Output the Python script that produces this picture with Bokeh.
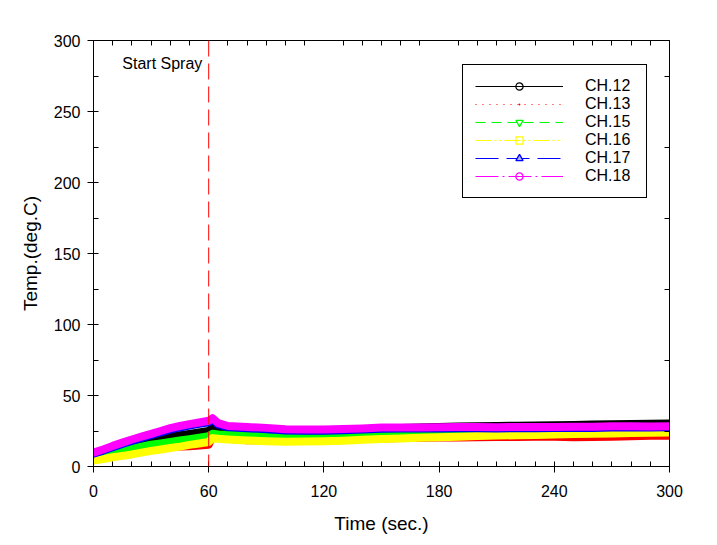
from bokeh.plotting import figure
from bokeh.models import (Range1d, SingleIntervalTicker, FixedTicker, LinearAxis,
                          Span, Legend, LegendItem, ColumnDataSource, Label)
from bokeh.embed import file_html
from bokeh.resources import INLINE

# ---- data ----
time_s = [0, 5, 10, 15, 20, 25, 30, 35, 40, 45, 50, 55, 60, 62, 65, 70, 80, 90, 100,
          110, 120, 130, 140, 150, 160, 170, 180, 190, 200, 210, 220, 230, 240, 250,
          260, 270, 280, 290, 300]

ch12 = [9.0, 10.8, 12.5, 14.3, 16.0, 17.5, 18.8, 20.0, 21.0, 22.0, 23.0, 24.0, 25.0, 27.8,
        24.5, 24.0, 24.3, 24.5, 24.7, 25.0, 25.4, 25.8, 26.2, 26.7, 27.1, 27.5, 27.8, 28.1,
        28.3, 28.5, 28.7, 28.9, 29.1, 29.3, 29.5, 29.7, 29.9, 30.1, 30.2]
ch13 = [8.5, 10.3, 10.8, 11.5, 12.0, 12.5, 13.0, 13.3, 13.6, 14.0, 14.3, 14.8, 15.3, 22.0,
        21.0, 19.5, 18.5, 18.5, 18.5, 18.5, 19.0, 19.2, 19.5, 19.8, 20.0, 20.3, 20.5, 20.5,
        20.6, 20.8, 20.8, 20.9, 21.0, 20.6, 20.8, 21.0, 21.3, 21.6, 21.6]
ch15 = [7.5, 9.0, 10.3, 11.5, 12.7, 14.0, 15.3, 16.3, 17.3, 18.3, 19.3, 20.3, 21.3, 23.0,
        22.5, 22.3, 22.0, 21.8, 21.7, 21.8, 22.0, 22.3, 22.7, 23.2, 23.5, 23.6, 23.8, 24.0,
        24.0, 24.2, 24.3, 24.4, 24.5, 24.6, 24.7, 24.9, 25.0, 25.2, 25.4]
ch16 = [4.2, 5.2, 6.5, 7.5, 8.5, 9.8, 11.0, 12.0, 13.0, 14.0, 15.2, 16.2, 17.3, 20.0,
        19.5, 19.0, 18.3, 17.8, 17.5, 17.6, 17.8, 18.2, 18.8, 19.4, 19.8, 20.2, 20.6, 21.0,
        21.5, 21.8, 22.0, 22.2, 22.5, 22.8, 23.0, 23.3, 23.6, 23.8, 24.0]
ch17 = [9.0, 11.2, 13.6, 15.9, 18.0, 20.0, 22.0, 24.0, 26.0, 27.5, 28.8, 30.0, 31.2, 33.0,
        29.5, 27.6, 26.9, 26.3, 25.4, 25.2, 25.2, 25.6, 26.0, 26.6, 26.7, 26.7, 26.8, 27.0,
        27.0, 26.8, 27.1, 27.0, 27.1, 27.2, 27.2, 27.5, 27.6, 27.4, 27.6]
ch18 = [9.8, 12.0, 14.5, 16.8, 19.0, 21.0, 23.0, 25.0, 27.0, 28.5, 29.8, 31.0, 32.2, 34.0,
        30.5, 28.5, 27.8, 27.2, 26.2, 26.0, 26.0, 26.4, 26.8, 27.4, 27.5, 27.5, 27.6, 27.8,
        27.8, 27.6, 27.9, 27.8, 27.9, 28.0, 28.0, 28.3, 28.4, 28.2, 28.4]

labels = ["CH.12", "CH.13", "CH.15", "CH.16", "CH.17", "CH.18"]
colors = ["black", "red", "#00ff00", "#ffff00", "#0000ff", "#ff00ff"]
dashes = ["solid", "1 6", "10 6", "16 3 2 3 2 3", "23 8", "23 4 2 4"]
markers = ["circle", "dot", "inverted_triangle", "square", "triangle", "circle"]
series = [ch12, ch13, ch15, ch16, ch17, ch18]

x_ticks_major = 60
y_ticks_major = 50
spray_time = 60

FONT = "Liberation Sans"

p = figure(frame_width=576, frame_height=426, output_backend="svg", toolbar_location=None,
           x_range=Range1d(0, 300), y_range=Range1d(0, 300),
           min_border_left=93, min_border_top=40, min_border_right=40, min_border_bottom=70)
p.xgrid.visible = False
p.ygrid.visible = False
p.outline_line_color = "black"
p.outline_line_alpha = 1
p.background_fill_color = "white"
p.border_fill_color = "white"

# bottom / left axes
xa = p.xaxis[0]
xa.ticker = SingleIntervalTicker(interval=x_ticks_major, num_minor_ticks=6)
xa.axis_label = "Time (sec.)"
ya = p.yaxis[0]
ya.ticker = SingleIntervalTicker(interval=y_ticks_major, num_minor_ticks=2)
ya.axis_label = "Temp.(deg.C)"
for ax in (xa, ya):
    ax.axis_line_color = "black"
    ax.major_tick_line_color = "black"
    ax.minor_tick_line_color = "black"
    ax.major_tick_in = 0
    ax.major_tick_out = 6
    ax.minor_tick_in = 5
    ax.minor_tick_out = 0
    ax.major_label_text_font = FONT
    ax.major_label_text_font_size = "16px"
    ax.major_label_text_color = "black"
    ax.axis_label_text_font = FONT
    ax.axis_label_text_font_size = "19px"
    ax.axis_label_text_font_style = "normal"
    ax.axis_label_text_color = "black"
xa.major_label_standoff = 12
xa.axis_label_standoff = 13
ya.major_label_standoff = 7
ya.axis_label_standoff = 10

# top and right axes: inner ticks only
top_ticks = [t for t in range(10, 300, 10) if t % 60 != 0]
right_ticks = [25, 75, 125, 175, 225, 275]
ta = LinearAxis(ticker=FixedTicker(ticks=top_ticks))
ra = LinearAxis(ticker=FixedTicker(ticks=right_ticks))
for ax in (ta, ra):
    ax.major_tick_in = 5
    ax.major_tick_out = 0
    ax.minor_tick_line_color = None
    ax.major_label_text_font_size = "1px"
    ax.major_label_text_color = None
    ax.axis_line_color = "black"
p.add_layout(ta, "above")
p.add_layout(ra, "right")

# data bands
src = ColumnDataSource(dict(t=time_s, **{f"s{i}": s for i, s in enumerate(series)}))
for i in range(len(series)):
    p.line("t", f"s{i}", source=src, line_color=colors[i], line_width=8,
           line_join="round", line_cap="round")

# start spray marker
p.add_layout(Span(location=spray_time, dimension="height", line_color="red",
                  line_width=1, line_dash="16 7"))
p.add_layout(Label(x=15, y=283.5, text="Start Spray", text_font=FONT,
                   text_font_size="16px", text_baseline="middle", text_color="black"))

# legend with off-range proxy renderers
items = []
proxy = ColumnDataSource(dict(x=[-100, -90], y=[-100, -100]))
for i in range(len(series)):
    lr = p.line("x", "y", source=proxy, line_color=colors[i], line_width=1.2,
                line_dash=dashes[i])
    if i == 1:
        mr = p.scatter("x", "y", source=proxy, marker="dot", size=8,
                       line_color=colors[i], fill_color=colors[i], line_width=3)
    else:
        mr = p.scatter("x", "y", source=proxy, marker=markers[i], size=8,
                       line_color=colors[i], line_width=1.3,
                       fill_color="#aab4ff" if i == 4 else None)
    items.append(LegendItem(label=labels[i], renderers=[lr, mr]))

leg = Legend(items=items, location=(369, 268), margin=0, padding=12, spacing=0,
             glyph_width=88, glyph_height=18, label_height=18, label_width=49,
             label_standoff=22, border_line_color="black", border_line_width=1,
             border_line_alpha=1, background_fill_color="white", background_fill_alpha=1,
             label_text_font=FONT, label_text_font_size="16px", label_text_color="black")
p.add_layout(leg, "center")

open("out.html", "w").write(file_html(p, INLINE))
